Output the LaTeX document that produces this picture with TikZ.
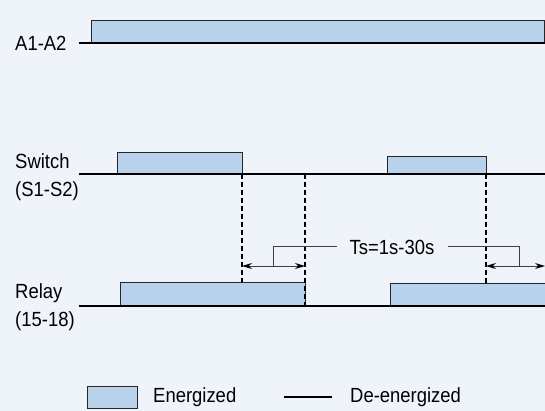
\documentclass[tikz,border=0pt]{standalone}
\usepackage{fontspec}
\setmainfont{Liberation Sans}[FakeStretch=0.9]
\usetikzlibrary{arrows.meta,positioning,calc}
\definecolor{c1}{RGB}{184,210,236}
\definecolor{c2}{RGB}{239,243,250}

\begin{document}
\begin{tikzpicture}[x=1pt,y=-1pt,
    lbl/.style={font=\fontsize{20.5}{28}\selectfont,align=left,inner sep=0pt,anchor=west},
    pulse/.style={draw=black!85,line width=0.9pt,fill=c1},
    base/.style={line width=2.9pt},
    delay/.style={dashed,dash pattern=on 5pt off 3pt,line width=1.2pt},
    tsline/.style={draw=black!75,line width=1pt},
    tsarrow/.style={tsline,>={Stealth[length=10pt,width=6pt,black]},<->}]
  \useasboundingbox[fill=c2] (0,0) rectangle (545,411);

  % A1-A2
  \node[lbl] (a1a2) at (15,43) {A1-A2};
  \draw[pulse] (91,20) rectangle (544,43);
  \draw[base] (79,43) -- (545,43);

  % switch
  \node[lbl] (sw) at (15,177) {Switch\\(S1-S2)};
  \draw[pulse] (117,152) rectangle (242,174);
  \draw[pulse] (387,156) rectangle (486,174);
  \draw[base] (79,174) -- (545,174);

  % relay
  \node[lbl] (rl) at (15,307) {Relay\\(15-18)};
  \draw[pulse] (120,282) rectangle (305,306);
  \draw[pulse] (390,283) rectangle (546,306);
  \draw[base] (79,306) -- (545,306);

  % delay marks
  \coordinate (off1) at (242,174);
  \coordinate (end1) at (305,174);
  \coordinate (off2) at (486,174);
  \draw[delay] (off1) -- (off1 |- 0,282);
  \draw[delay] (end1) -- (end1 |- 0,306);
  \draw[delay] (off2) -- (off2 |- 0,283);

  \node[font=\fontsize{20.5}{24}\selectfont,inner xsep=13pt,inner ysep=0pt] (ts) at (392,247) {Ts=1s-30s};
  \draw[tsarrow] (off1 |- 0,266) -- (end1 |- 0,266);
  \draw[tsarrow] (off2 |- 0,266) -- (545,266);
  \draw[tsline] (ts.west) -| (273,266);
  \draw[tsline] (ts.east) -| (519,266);

  % legend
  \draw[pulse] (87,386) rectangle (137,408);
  \node[lbl] (en) at (153,397) {Energized};
  \draw[line width=2.2pt] (284,397) -- (332,397);
  \node[lbl] (de) at (350,397) {De-energized};
\end{tikzpicture}
\end{document}
